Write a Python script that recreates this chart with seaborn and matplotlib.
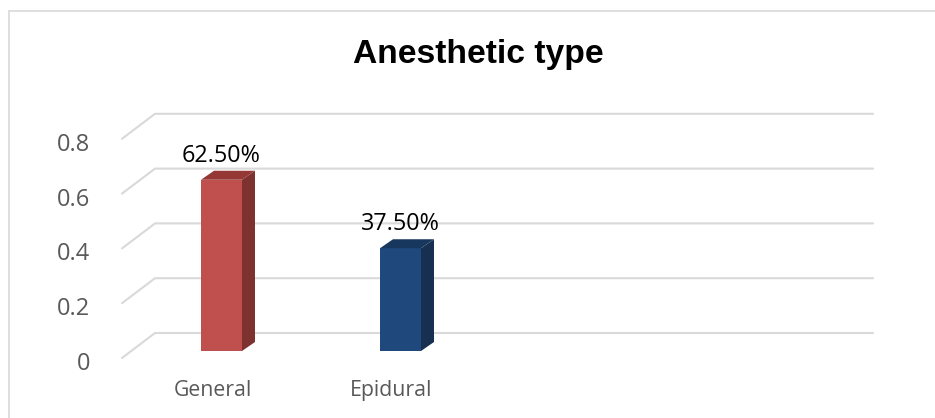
import matplotlib
matplotlib.use("Agg")
import matplotlib.pyplot as plt
import seaborn as sns
import pandas as pd
from matplotlib.patches import Polygon
from matplotlib.lines import Line2D
from matplotlib.transforms import Affine2D, IdentityTransform

categories = ["General", "Epidural"]
shares = [0.625, 0.375]
share_labels = ["62.50%", "37.50%"]
yticks = [0, 0.2, 0.4, 0.6, 0.8]
ytick_labels = ["0", "0.2", "0.4", "0.6", "0.8"]

front_colors = ["#C0504D", "#1F497D"]
side_colors = ["#7E3230", "#172F50"]
top_colors = ["#953735", "#17375E"]
grid_color = "#D9D9D9"
text_gray = "#595959"

W, H = 935, 418
px_per_unit = 274
ymax = 0.95

sns.set_theme(style="white")
plt.rcParams["font.family"] = ["Open Sans", "DejaVu Sans"]

fig = plt.figure(figsize=(W / 100, H / 100), dpi=100)
ax = fig.add_axes([132 / W, (H - 351) / H, 716 / W, ymax * px_per_unit / H])

df = pd.DataFrame({"type": categories, "share": shares})
sns.barplot(data=df, x="type", y="share", hue="type", palette=front_colors,
            width=41 / 179, saturation=1, legend=False, ax=ax, zorder=2,
            edgecolor="none", linewidth=0)
ax.set_xlim(-0.5, 3.5)
ax.set_ylim(0, ymax)
sns.despine(ax=ax, left=True, bottom=True)
ax.set_xlabel("")
ax.set_ylabel("")

# fake 3d: side and top faces of each bar
dx, dy = 13, 9
for i, patch in enumerate(ax.patches):
    x0, y0 = ax.transData.transform((patch.get_x(), 0))
    x1, y1 = ax.transData.transform((patch.get_x() + patch.get_width(), patch.get_height()))
    side = [(x1, y0), (x1, y1), (x1 + dx, y1 + dy), (x1 + dx, y0 + dy)]
    top = [(x0, y1), (x1, y1), (x1 + dx, y1 + dy), (x0 + dx, y1 + dy)]
    ax.add_patch(Polygon(side, closed=True, transform=IdentityTransform(),
                         facecolor=side_colors[i], edgecolor="none", zorder=2, clip_on=False))
    ax.add_patch(Polygon(top, closed=True, transform=IdentityTransform(),
                         facecolor=top_colors[i], edgecolor="none", zorder=2, clip_on=False))
    ax.annotate(share_labels[i], (patch.get_x() + patch.get_width() / 2, patch.get_height()),
                xytext=(0, 13), textcoords="offset points", ha="center", va="baseline",
                fontsize=16.8, color="black")

# back wall gridlines and floor diagonals
xl = ax.transAxes.transform((0, 0))[0]
xr = ax.transAxes.transform((1, 0))[0]
for v in yticks:
    yd = ax.transData.transform((0, v))[1]
    ax.add_line(Line2D([xl - 10, xl + 23, xr + 25], [yd - 7, yd + 18, yd + 18],
                       transform=IdentityTransform(), color=grid_color, lw=1.5,
                       clip_on=False, zorder=0))

ax.set_yticks(yticks)
ax.set_yticklabels(ytick_labels)
ax.set_xticks([0, 1])
ax.set_xticklabels(categories)
ax.tick_params(axis="y", length=0, pad=33 - 10, labelsize=17, labelcolor=text_gray)
ax.tick_params(axis="x", length=0, pad=21, labelsize=15.3, labelcolor=text_gray)
for lab in ax.get_yticklabels():
    lab.set_transform(lab.get_transform() + Affine2D().translate(-10, -10))
for lab in ax.get_xticklabels():
    lab.set_transform(lab.get_transform() + Affine2D().translate(-9, 0))

fig.text(478 / W, 1 - 63 / H, "Anesthetic type", ha="center", va="baseline",
         fontsize=24.2, fontweight="bold", family="Liberation Sans", color="black")

# chart border (top and left edges visible)
fig.add_artist(Line2D([9 / W, 1], [1 - 11 / H, 1 - 11 / H], transform=fig.transFigure,
                      color=grid_color, lw=1.2))
fig.add_artist(Line2D([9 / W, 9 / W], [0, 1 - 11 / H], transform=fig.transFigure,
                      color=grid_color, lw=1.2))

fig.savefig("out.png", dpi=100)
